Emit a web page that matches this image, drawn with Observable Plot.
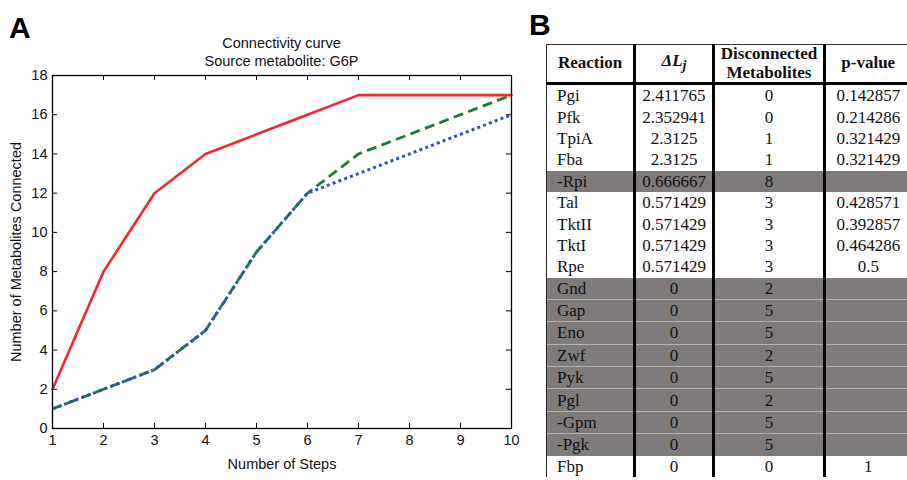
<!DOCTYPE html>
<html>
<head>
<meta charset="utf-8">
<script src="https://cdn.jsdelivr.net/npm/d3@7"></script>
<script src="https://cdn.jsdelivr.net/npm/@observablehq/plot@0.6"></script>
<style>
  html, body { margin: 0; padding: 0; background: #fff; }
  #root { position: relative; width: 907px; height: 480px; overflow: hidden; background: #fff; }
  .panel-letter { position: absolute; font-family: "Liberation Sans", Arial, sans-serif; font-weight: bold; font-size: 30px; line-height: 1; }
  .title { position: absolute; left: 52px; width: 459px; text-align: center; font-family: "Liberation Sans", Arial, sans-serif; font-size: 14.5px; line-height: 18px; color: #111; }
  #chartA { position: absolute; left: 0; top: 0; }
  table { position: absolute; left: 546px; top: 44px; border-collapse: collapse; table-layout: fixed; width: 364px;
          font-family: "Liberation Serif", "Times New Roman", serif; font-size: 17px; color: #111; }
  th { font-weight: bold; height: 36px; padding: 0; line-height: 18.5px; text-align: center; border-bottom: 3px solid #000; border-top: 1px solid #333; }
  td { height: 21.4px; padding: 0; line-height: 17px; text-align: center; vertical-align: middle; }
  td.rx, th.rx { text-align: left; padding-left: 10px; }
  th.rx { text-align: center; padding-left: 0; }
  .c1 { border-left: 1.5px solid #222; }
  .c2, .c3, .c4 { border-left: 3px solid #000; }
  tr.sh td { background: #7f7b7b; border-top: 1px solid #b3b0b0; }
  tr.first td { border-top: none; }
</style>
</head>
<body>
<div id="root">
  <div class="panel-letter" style="left:9px; top:13px;">A</div>
  <div class="panel-letter" style="left:529px; top:10px;">B</div>
  <div class="title" style="top:34px;">Connectivity curve</div>
  <div class="title" style="top:52px;">Source metabolite: G6P</div>
  <div id="chartA"></div>
</div>
<script>
// ---- Panel A data ----
const steps = [1, 2, 3, 4, 5, 6, 7, 8, 9, 10];
const redSeries = [2, 8, 12, 14, 15, 16, 17, 17, 17, 17];
const greenSeries = [1, 2, 3, 5, 9, 12, 14, 15, 16, 17];
const blueSeries = [1, 2, 3, 5, 9, 12, 13, 14, 15, 16];
const xTicks = [1, 2, 3, 4, 5, 6, 7, 8, 9, 10];
const yTicks = [0, 2, 4, 6, 8, 10, 12, 14, 16, 18];

// ---- Panel B data ----
const reactions = ["Pgi", "Pfk", "TpiA", "Fba", "-Rpi", "Tal", "TktII", "TktI", "Rpe",
  "Gnd", "Gap", "Eno", "Zwf", "Pyk", "Pgl", "-Gpm", "-Pgk", "Fbp"];
const deltaL = ["2.411765", "2.352941", "2.3125", "2.3125", "0.666667", "0.571429", "0.571429", "0.571429", "0.571429",
  "0", "0", "0", "0", "0", "0", "0", "0", "0"];
const disconnected = [0, 0, 1, 1, 8, 3, 3, 3, 3, 2, 5, 5, 2, 5, 2, 5, 5, 0];
const pValues = ["0.142857", "0.214286", "0.321429", "0.321429", "", "0.428571", "0.392857", "0.464286", "0.5",
  "", "", "", "", "", "", "", "", "1"];
const headers = ["Reaction", "ΔL<sub>j</sub>", "Disconnected<br>Metabolites", "p-value"];

// ---- Build chart A ----
const rows = (name, vals) => steps.map((s, i) => ({step: s, value: vals[i], series: name}));
const red = rows("red", redSeries);
const green = rows("green", greenSeries);
const blue = rows("blue", blueSeries);

const xTickLen = 0.1;   // in x data units (~5px)
const yTickLen = 0.26;  // in y data units (~5px)

const chart = Plot.plot({
  width: 530,
  height: 480,
  marginTop: 75,
  marginBottom: 52,
  marginLeft: 52,
  marginRight: 19,
  style: {fontFamily: "'Liberation Sans', Arial, sans-serif", fontSize: "14.5px", color: "#111", background: "transparent"},
  x: {domain: [1, 10]},
  y: {domain: [0, 18]},
  marks: [
    Plot.axisX(xTicks, {tickSize: 0, tickPadding: 6, fontSize: 14.5, label: "Number of Steps", labelAnchor: "center", labelArrow: "none", labelOffset: 40}),
    Plot.axisY(yTicks, {tickSize: 0, tickPadding: 5, fontSize: 14.5, label: "Number of Metabolites Connected", labelAnchor: "center", labelArrow: "none", labelOffset: 42}),
    // inward ticks on all four sides
    Plot.ruleX(xTicks, {x: d => d, y1: 0, y2: yTickLen, stroke: "#000", strokeWidth: 1}),
    Plot.ruleX(xTicks, {x: d => d, y1: 18 - yTickLen, y2: 18, stroke: "#000", strokeWidth: 1}),
    Plot.ruleY(yTicks, {y: d => d, x1: 1, x2: 1 + xTickLen, stroke: "#000", strokeWidth: 1}),
    Plot.ruleY(yTicks, {y: d => d, x1: 10 - xTickLen, x2: 10, stroke: "#000", strokeWidth: 1}),
    Plot.lineY(red, {x: "step", y: "value", stroke: "#ee2a2e", strokeWidth: 2.6}),
    Plot.lineY(green, {x: "step", y: "value", stroke: "#1b7a33", strokeWidth: 2.8, strokeDasharray: "10,5.5", strokeLinecap: "butt", strokeLinejoin: "miter"}),
    Plot.lineY(blue, {x: "step", y: "value", stroke: "#2b54b5", strokeWidth: 3, strokeDasharray: "3,3.2", strokeLinecap: "butt", strokeLinejoin: "miter"}),
    Plot.frame({stroke: "#000", strokeWidth: 1.3})
  ]
});
document.getElementById("chartA").appendChild(chart);

// ---- Build table B ----
const table = document.createElement("table");
const colgroup = document.createElement("colgroup");
[88, 79, 111, 86].forEach(w => { const c = document.createElement("col"); c.style.width = w + "px"; colgroup.appendChild(c); });
table.appendChild(colgroup);
const thead = document.createElement("thead");
const htr = document.createElement("tr");
headers.forEach((h, i) => {
  const th = document.createElement("th");
  th.className = "c" + (i + 1) + (i === 0 ? " rx" : "");
  th.innerHTML = i === 1 ? "<i style='font-style:italic'>" + h + "</i>" : h;
  htr.appendChild(th);
});
thead.appendChild(htr);
table.appendChild(thead);
const tbody = document.createElement("tbody");
reactions.forEach((r, i) => {
  const tr = document.createElement("tr");
  const shaded = pValues[i] === "";
  const prevShaded = i > 0 && pValues[i - 1] === "";
  if (shaded) tr.className = "sh" + (prevShaded ? "" : " first");
  [r, deltaL[i], String(disconnected[i]), pValues[i]].forEach((v, j) => {
    const td = document.createElement("td");
    td.className = "c" + (j + 1) + (j === 0 ? " rx" : "");
    td.textContent = v;
    tr.appendChild(td);
  });
  tbody.appendChild(tr);
});
table.appendChild(tbody);
document.getElementById("root").appendChild(table);
</script>
</body>
</html>
